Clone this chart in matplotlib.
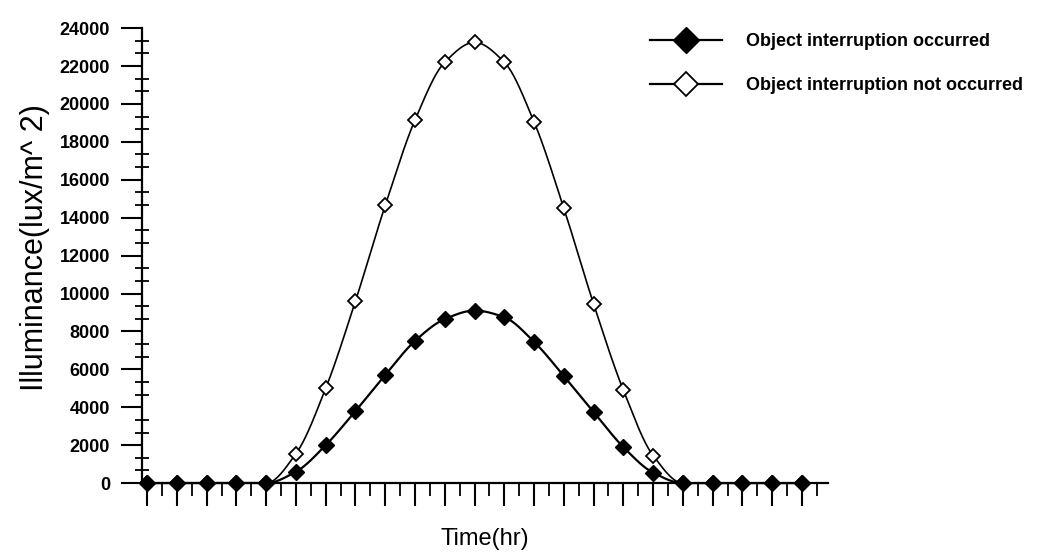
import numpy as np
import matplotlib
matplotlib.use("Agg")
import matplotlib.pyplot as plt
from matplotlib.ticker import MultipleLocator, NullFormatter
from matplotlib.lines import Line2D

# ---- data ----
hours = list(range(1, 24))
occurred = [0, 0, 0, 0, 0, 600, 2000, 3800, 5700, 7500, 8650, 9100,
            8750, 7450, 5650, 3750, 1900, 550, 0, 0, 0, 0, 0]
not_occurred = [0, 0, 0, 0, 0, 1550, 5000, 9600, 14650, 19150, 22200, 23250,
                22200, 19050, 14500, 9450, 4900, 1450, 0, 0, 0, 0, 0]
series_labels = ["Object interruption occurred", "Object interruption not occurred"]
y_ticks = list(range(0, 24001, 2000))
x_label = "Time(hr)"
y_label = "Illuminance(lux/m^ 2)"

plt.rcParams["font.family"] = ["Liberation Sans", "DejaVu Sans"]


def pchip(x, y, xs):
    """Shape-preserving cubic (Fritsch-Carlson) used only to draw a smooth curve."""
    x = np.asarray(x, float)
    y = np.asarray(y, float)
    h = np.diff(x)
    delta = np.diff(y) / h
    d = np.zeros_like(y)
    for k in range(1, len(x) - 1):
        if delta[k - 1] * delta[k] > 0:
            w1 = 2 * h[k] + h[k - 1]
            w2 = h[k] + 2 * h[k - 1]
            d[k] = (w1 + w2) / (w1 / delta[k - 1] + w2 / delta[k])
    d[0] = delta[0]
    d[-1] = delta[-1]
    idx = np.clip(np.searchsorted(x, xs) - 1, 0, len(x) - 2)
    t = (xs - x[idx]) / h[idx]
    h00 = 2 * t**3 - 3 * t**2 + 1
    h10 = t**3 - 2 * t**2 + t
    h01 = -2 * t**3 + 3 * t**2
    h11 = t**3 - t**2
    return (h00 * y[idx] + h10 * h[idx] * d[idx]
            + h01 * y[idx + 1] + h11 * h[idx] * d[idx + 1])


fig = plt.figure(figsize=(10.6, 5.54), dpi=100)
ax = fig.add_axes([0.134, 0.128, 0.647, 0.8213])

xs = np.linspace(hours[0], hours[-1], 800)

# smooth curves
ax.plot(xs, pchip(hours, not_occurred, xs), color="black", lw=1.2, zorder=3, clip_on=False)
ax.plot(xs, pchip(hours, occurred, xs), color="black", lw=1.6, zorder=3, clip_on=False)

# markers
ax.plot(hours, not_occurred, linestyle="none", marker="D", ms=7.3,
        mfc="white", mec="black", mew=1.3, zorder=4, clip_on=False)
ax.plot(hours, occurred, linestyle="none", marker="D", ms=7.8,
        mfc="black", mec="black", mew=1.0, zorder=5, clip_on=False)

ax.set_xlim(hours[0] - 0.17, hours[-1] + 0.87)
ax.set_ylim(0, 24000)

for s in ("top", "right"):
    ax.spines[s].set_visible(False)
for s in ("left", "bottom"):
    ax.spines[s].set_linewidth(1.6)

ax.set_yticks(y_ticks)
ax.yaxis.set_minor_locator(MultipleLocator(2000 / 3))
ax.set_xticks(hours)
ax.xaxis.set_minor_locator(MultipleLocator(0.5))
ax.xaxis.set_major_formatter(NullFormatter())

ax.tick_params(axis="y", which="major", direction="out", length=15, width=1.5,
               pad=8, labelsize=13)
ax.tick_params(axis="y", which="minor", direction="inout", length=10, width=1.3)
ax.tick_params(axis="x", which="major", direction="out", length=16.5, width=1.5)
ax.tick_params(axis="x", which="minor", direction="out", length=9.5, width=1.3)
for lab in ax.get_yticklabels():
    lab.set_fontweight("bold")

ax.set_xlabel(x_label, fontsize=17, labelpad=12)
ax.set_ylabel(y_label, fontsize=22)
ax.yaxis.set_label_coords(-0.134, 0.518)

handles = [
    Line2D([], [], color="black", lw=1.6, marker="D", ms=13, mfc="black", mec="black"),
    Line2D([], [], color="black", lw=1.6, marker="D", ms=12, mfc="white", mec="black", mew=1.3),
]
ax.legend(handles, series_labels, loc="upper left",
          bbox_to_anchor=(650 / 1060, 1 - 33 / 554), bbox_transform=fig.transFigure,
          frameon=False, prop={"weight": "bold", "size": 13},
          handlelength=4.0, handletextpad=1.3, labelspacing=1.5,
          borderpad=0, borderaxespad=0)

fig.savefig("out.png", dpi=100)
